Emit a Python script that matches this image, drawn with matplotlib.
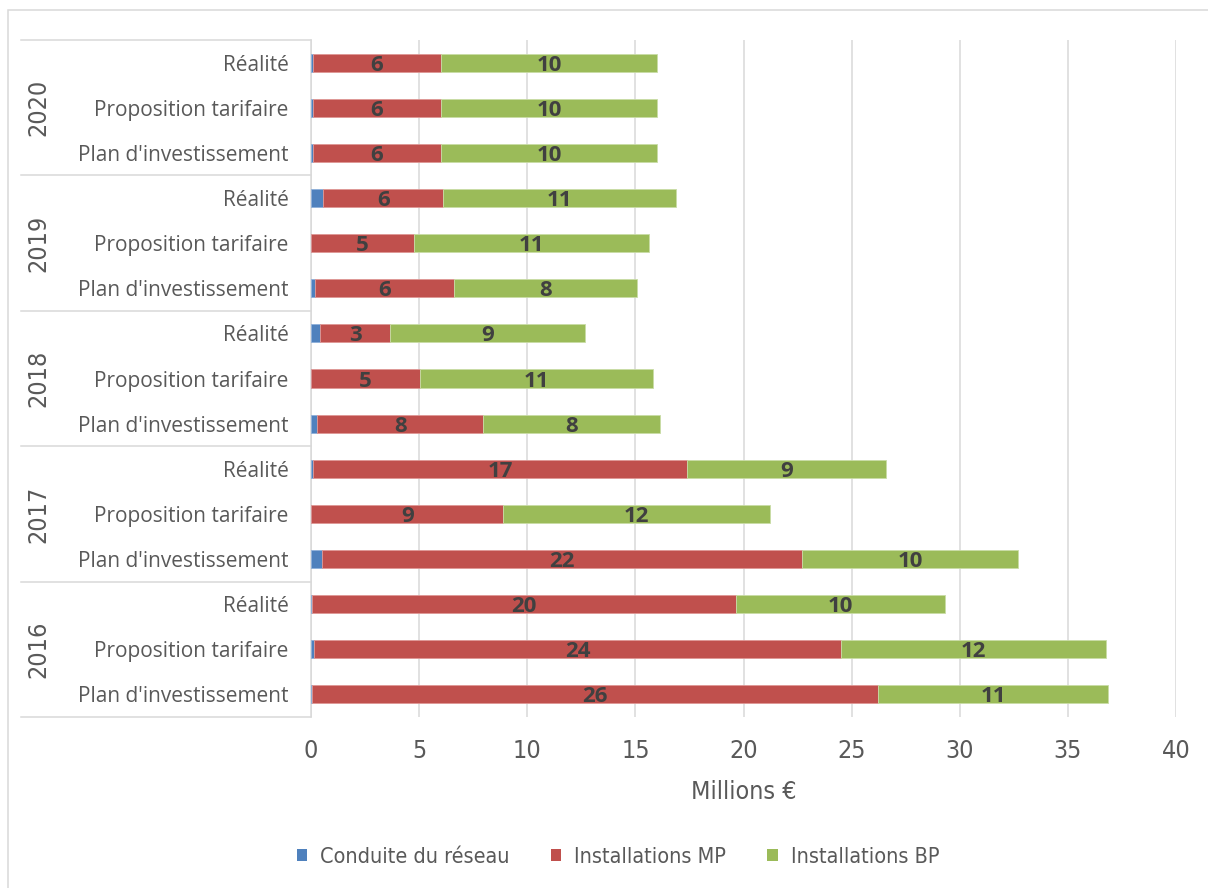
import matplotlib
matplotlib.use("Agg")
import matplotlib.pyplot as plt
from matplotlib import font_manager
from matplotlib.font_manager import FontProperties
from matplotlib.patches import Patch, Rectangle
from matplotlib.lines import Line2D
import matplotlib.transforms as mtransforms

# ---- data (millions €) ----
years = ["2016", "2017", "2018", "2019", "2020"]
scenarios = ["Plan d'investissement", "Proposition tarifaire", "Réalité"]
series_names = ["Conduite du réseau", "Installations MP", "Installations BP"]

# one row per year, one value per scenario (Plan, Proposition, Réalité)
conduite = [
    [0.06, 0.15, 0.03],   # 2016
    [0.52, 0.02, 0.11],   # 2017
    [0.29, 0.00, 0.40],   # 2018
    [0.19, 0.00, 0.57],   # 2019
    [0.07, 0.07, 0.07],   # 2020
]
install_mp = [
    [26.17, 24.38, 19.64],
    [22.17, 8.87, 17.27],
    [7.67, 5.05, 3.27],
    [6.43, 4.74, 5.54],
    [5.96, 5.96, 5.96],
]
install_bp = [
    [10.62, 12.25, 9.65],
    [10.02, 12.34, 9.21],
    [8.20, 10.75, 9.02],
    [8.45, 10.91, 10.79],
    [9.97, 9.97, 9.97],
]

colors = ["#4F81BD", "#C0504D", "#9BBB59"]
edge_colors = ["#8FB0DA", "#DE9795", "#C9DCA6"]
text_grey = "#595959"

# pick a narrow sans for axis numbers and legend, if one is installed
narrow_file = None
for f in font_manager.fontManager.ttflist:
    if "LiberationSansNarrow-Regular" in f.fname:
        narrow_file = f.fname
        break
if narrow_file is None:
    for f in font_manager.fontManager.ttflist:
        if f.fname.endswith("DejaVuSansCondensed.ttf"):
            narrow_file = f.fname
            break


def narrow_font(size):
    if narrow_file:
        return FontProperties(fname=narrow_file, size=size)
    return FontProperties(family="Roboto", size=size)


plt.rcParams["font.family"] = ["Open Sans", "DejaVu Sans"]

W, H = 1208, 888
fig = plt.figure(figsize=(W / 100, H / 100), dpi=100)
fig.patch.set_facecolor("white")

left_px, right_px, top_px, bottom_px = 311, 1176, 40, 717
ax = fig.add_axes([left_px / W, 1 - bottom_px / H,
                   (right_px - left_px) / W, (bottom_px - top_px) / H])

# flatten into bar rows, bottom to top
rows_c, rows_mp, rows_bp, labels = [], [], [], []
for yi, yr in enumerate(years):
    for si, sc in enumerate(scenarios):
        rows_c.append(conduite[yi][si])
        rows_mp.append(install_mp[yi][si])
        rows_bp.append(install_bp[yi][si])
        labels.append(sc)
pos = list(range(len(labels)))
bar_h = 0.4

b1 = ax.barh(pos, rows_c, height=bar_h, color=colors[0],
             edgecolor=edge_colors[0], linewidth=0.6, zorder=3)
left_mp = rows_c
b2 = ax.barh(pos, rows_mp, left=left_mp, height=bar_h, color=colors[1],
             edgecolor=edge_colors[1], linewidth=0.6, zorder=3)
left_bp = [a + b for a, b in zip(rows_c, rows_mp)]
b3 = ax.barh(pos, rows_bp, left=left_bp, height=bar_h, color=colors[2],
             edgecolor=edge_colors[2], linewidth=0.6, zorder=3)

for bars in (b2, b3):
    txts = ax.bar_label(bars, labels=[f"{v:.0f}" for v in bars.datavalues],
                        label_type="center", fontsize=16, fontweight="bold",
                        color="#404040", zorder=4)
    for t in txts:
        t.set_va("center_baseline")

ax.set_xlim(0, 40)
ax.set_ylim(-0.5, len(labels) - 0.5)
ax.set_xticks(range(0, 41, 5))
ax.xaxis.grid(True, color="#D9D9D9", linewidth=1.1, zorder=0)
ax.set_axisbelow(True)
for s in ("top", "right", "bottom"):
    ax.spines[s].set_visible(False)
ax.spines["left"].set_color("#D9D9D9")
ax.spines["left"].set_linewidth(1.1)

ax.set_yticks(pos)
ax.set_yticklabels(labels, fontsize=15, color=text_grey)
ax.tick_params(axis="y", length=0, pad=16)
ax.tick_params(axis="x", length=0, pad=16, labelcolor=text_grey)
tick_fp = narrow_font(18)
for t in ax.get_xticklabels():
    t.set_fontproperties(tick_fp)

ax.set_xlabel("Millions €", fontproperties=narrow_font(18), color=text_grey,
              labelpad=12)

# year group separators and labels on the category axis
blend = mtransforms.blended_transform_factory(fig.transFigure, ax.transData)
n_sc = len(scenarios)
for k in range(len(years) + 1):
    yb = k * n_sc - 0.5
    fig.add_artist(Line2D([21 / W, left_px / W], [yb, yb], transform=blend,
                          color="#D9D9D9", linewidth=1.1))
for yi, yr in enumerate(years):
    fig.text(38 / W, yi * n_sc + (n_sc - 1) / 2, yr, transform=blend,
             rotation=90, ha="center", va="center", color=text_grey,
             fontproperties=narrow_font(18))

# legend
handles = [Patch(facecolor=c, edgecolor="none") for c in colors]
leg = fig.legend(handles, series_names, loc="center",
                 bbox_to_anchor=(618 / W, 1 - 857 / H), ncol=3, frameon=False,
                 prop=narrow_font(15.5), handlelength=0.5,
                 handleheight=0.5, handletextpad=0.6, columnspacing=1.9)
for t in leg.get_texts():
    t.set_color(text_grey)

# chart border
fig.add_artist(Rectangle((8 / W, -0.01), 1.02 - 8 / W, 1 - 10 / H + 0.01,
                         transform=fig.transFigure, fill=False,
                         edgecolor="#D9D9D9", linewidth=1.1))

fig.savefig("out.png", dpi=100)
